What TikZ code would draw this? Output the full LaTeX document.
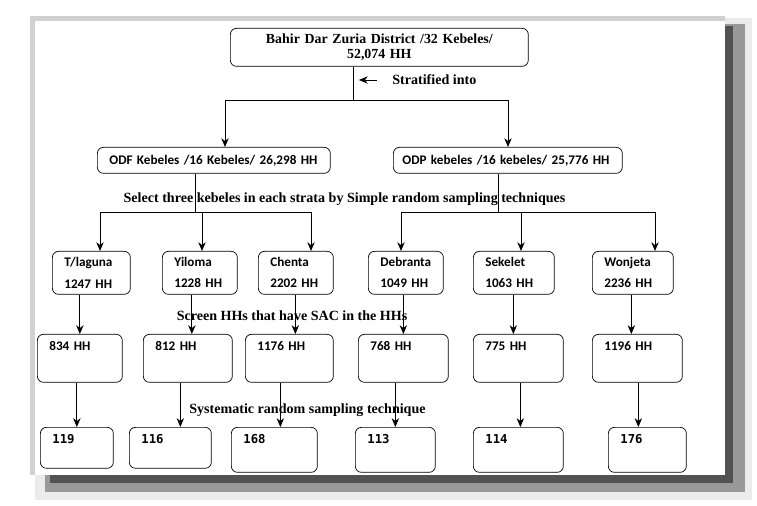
\documentclass[tikz,border=0pt]{standalone}
\usepackage{fontspec}
\setmainfont{Liberation Serif}
\newfontfamily\calibri{Carlito}
\newfontfamily\lucida{DejaVu Sans Mono}
\usetikzlibrary{arrows.meta}
\tikzset{
  >={Stealth[length=5pt, width=4.2pt]},
  line width=0.8pt,
  box/.style = {draw, rounded corners=3.5pt, anchor=north west, align=left,
    inner xsep=0.24cm, inner ysep=3pt, font=\calibri\bfseries\fontsize{7.5}{9}\selectfont},
  kebele/.style = {box, text width=#1, minimum height=0.86cm},
  hh/.style = {box, text width=#1, text height=6.4pt, text depth=14.9pt},
  sample/.style = {box, text width=#1, text height=6.1pt, text depth=11.2pt,
    font=\lucida\bfseries\fontsize{7}{8}\selectfont},
  note/.style = {inner sep=0pt, font=\bfseries\fontsize{8}{9}\selectfont},
}

\begin{document}
\begin{tikzpicture}[x=0.02cm, y=-0.02cm]
    \useasboundingbox (0,0) rectangle (757,506);
    % page and its shadow
    \fill[black!8] (35,18) rectangle (752,500);
    \fill[black!40] (45,24) rectangle (745,492);
    \fill[black!68] (50,26) rectangle (733,483);
    \fill[black!18] (30,16) rectangle (725,475);
    \fill[white] (35,21) rectangle (725,475);

    \node [box, text width=5.48cm, align=center, minimum height=0.76cm,
      font=\bfseries\fontsize{7.9}{8.7}\selectfont] (district) at (230,28)
      {Bahir Dar Zuria District /32 Kebeles/\\52,074 HH};
    \node [box, text width=4.18cm, minimum height=0.52cm] (odf) at (97,147) {ODF Kebeles /16 Kebeles/ 26,298 HH};
    \node [box, text width=4.22cm, inner xsep=0.18cm, minimum height=0.52cm] (odp) at (393,147) {ODP kebeles /16 kebeles/ 25,776 HH};

    \node [kebele=1.08cm] (tlaguna) at (52,251) {T/laguna\\[3pt]1247 HH};
    \node [kebele=1.02cm] (yiloma) at (162,251) {Yiloma\\[3pt]1228 HH};
    \node [kebele=1.02cm] (chenta) at (258,251) {Chenta\\[3pt]2202 HH};
    \node [kebele=1.02cm] (debranta) at (368,251) {Debranta\\[3pt]1049 HH};
    \node [kebele=1.14cm] (sekelet) at (473,251) {Sekelet\\[3pt]1063 HH};
    \node [kebele=1.14cm] (wonjeta) at (592,251) {Wonjeta\\[3pt]2236 HH};

    \node [hh=1.22cm] (hh834) at (37,334) {834 HH};
    \node [hh=1.30cm] (hh812) at (143,334) {812 HH};
    \node [hh=1.28cm] (hh1176) at (245,334) {1176 HH};
    \node [hh=1.32cm] (hh768) at (358,334) {768 HH};
    \node [hh=1.32cm] (hh775) at (473,334) {775 HH};
    \node [hh=1.32cm] (hh1196) at (592,334) {1196 HH};

    \node [sample=0.98cm] (s119) at (40,427) {119};
    \node [sample=1.16cm] (s116) at (129,427) {116};
    \node [sample=1.24cm, text depth=13.5pt] (s168) at (231,427) {168};
    \node [sample=1.12cm, text depth=13.5pt] (s113) at (355,427) {113};
    \node [sample=1.32cm, text depth=13.5pt] (s114) at (473,427) {114};
    \node [sample=1.08cm, text depth=13.5pt] (s176) at (608,427) {176};

    \node [note, anchor=west, inner xsep=15*0.02cm] (strat) at (377,80) {Stratified into};
    \node [note] (select) at (344.5,199) {Select three kebeles in each strata by Simple random sampling techniques};
    \node [note] (screen) at (292,316) {Screen HHs that have SAC in the HHs};
    \node [note] (systematic) at (307.5,410) {Systematic random sampling technique};

    \coordinate (split) at (353,100);
    \coordinate (ltop) at (225,100);
    \coordinate (rtop) at (508,100);
    \coordinate (strattip) at (359,80);
    \draw (district.south -| split) -- (split);
    \draw [->] (strat.west) -- (strattip);
    \draw (ltop) -- (rtop);
    \draw [->] (ltop) -- (ltop |- odf.north);
    \draw [->] (rtop) -- (rtop |- odp.north);

    \coordinate (odfdown) at (195,212);
    \coordinate (odpdown) at (498,212);
    \coordinate (b1) at (100,212);
    \coordinate (b2) at (202,212);
    \coordinate (b3) at (311,212);
    \coordinate (b4) at (401,212);
    \coordinate (b5) at (521,212);
    \coordinate (b6) at (655,212);
    \draw (odf.south -| odfdown) -- (odfdown);
    \draw (odp.south -| odpdown) -- (odpdown);
    \draw (b1) -- (b3);
    \draw (b4) -- (b6);
    \draw [->] (b1) -- (b1 |- tlaguna.north);
    \draw [->] (b2) -- (b2 |- yiloma.north);
    \draw [->] (b3) -- (b3 |- chenta.north);
    \draw [->] (b4) -- (b4 |- debranta.north);
    \draw [->] (b5) -- (b5 |- sekelet.north);
    \draw [->] (b6) -- (b6 |- wonjeta.north);

    \draw [->] (tlaguna.south -| hh834.north) -- (hh834.north);
    \draw [->] ([xshift=0.08cm]yiloma.south -| hh812.north) -- ([xshift=0.08cm]hh812.north);
    \draw [->] ([xshift=0.12cm]chenta.south -| hh1176.north) -- ([xshift=0.12cm]hh1176.north);
    \draw [->] (debranta.south -| hh768.north) -- (hh768.north);
    \draw [->] ([xshift=-0.1cm]sekelet.south -| hh775.north) -- ([xshift=-0.1cm]hh775.north);
    \draw [->] ([xshift=-0.12cm]wonjeta.south -| hh1196.north) -- ([xshift=-0.12cm]hh1196.north);

    \draw [->] (hh834.south -| s119.north) -- (s119.north);
    \draw [->] ([xshift=0.2cm]hh812.south -| s116.north) -- ([xshift=0.2cm]s116.north);
    \draw [->] ([xshift=0.12cm]hh1176.south -| s168.north) -- ([xshift=0.12cm]s168.north);
    \draw [->] (hh768.south -| s113.north) -- (s113.north);
    \draw [->] ([xshift=0.04cm]hh775.south -| s114.north) -- ([xshift=0.04cm]s114.north);
    \draw [->] ([xshift=-0.18cm]hh1196.south -| s176.north) -- ([xshift=-0.18cm]s176.north);
\end{tikzpicture}
\end{document}
